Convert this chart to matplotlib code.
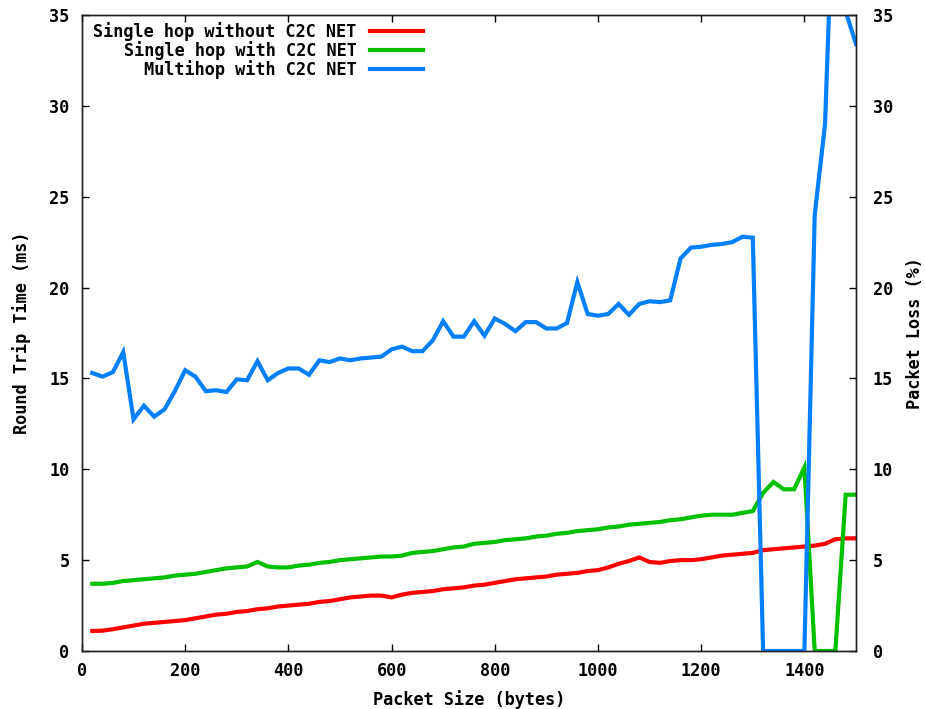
import matplotlib
matplotlib.use('Agg')
from matplotlib import pyplot as plt

# packet sizes (bytes)
packet_size = [
    20, 40, 60, 80, 100, 120, 140, 160, 180, 200,
    220, 240, 260, 280, 300, 320, 340, 360, 380, 400,
    420, 440, 460, 480, 500, 520, 540, 560, 580, 600,
    620, 640, 660, 680, 700, 720, 740, 760, 780, 800,
    820, 840, 860, 880, 900, 920, 940, 960, 980, 1000,
    1020, 1040, 1060, 1080, 1100, 1120, 1140, 1160, 1180, 1200,
    1220, 1240, 1260, 1280, 1300, 1320, 1340, 1360, 1380, 1400,
    1420, 1440, 1460, 1480, 1500,
]

single_no_c2c = [
    1.1, 1.12, 1.2, 1.3, 1.4, 1.5, 1.55, 1.6, 1.65, 1.7,
    1.8, 1.9, 2.0, 2.05, 2.15, 2.2, 2.3, 2.35, 2.45, 2.5,
    2.55, 2.6, 2.7, 2.75, 2.85, 2.95, 3.0, 3.05, 3.05, 2.95,
    3.1, 3.2, 3.25, 3.3, 3.4, 3.45, 3.5, 3.6, 3.65, 3.75,
    3.85, 3.95, 4.0, 4.05, 4.1, 4.2, 4.25, 4.3, 4.4, 4.45,
    4.6, 4.8, 4.95, 5.15, 4.9, 4.85, 4.95, 5.0, 5.0, 5.05,
    5.15, 5.25, 5.3, 5.35, 5.4, 5.55, 5.6, 5.65, 5.7, 5.75,
    5.8, 5.9, 6.15, 6.2, 6.2,
]

single_c2c = [
    3.7, 3.7, 3.75, 3.85, 3.9, 3.95, 4.0, 4.05, 4.15, 4.2,
    4.25, 4.35, 4.45, 4.55, 4.6, 4.65, 4.9, 4.65, 4.6, 4.6,
    4.7, 4.75, 4.85, 4.9, 5.0, 5.05, 5.1, 5.15, 5.2, 5.2,
    5.25, 5.4, 5.45, 5.5, 5.6, 5.7, 5.75, 5.9, 5.95, 6.0,
    6.1, 6.15, 6.2, 6.3, 6.35, 6.45, 6.5, 6.6, 6.65, 6.7,
    6.8, 6.85, 6.95, 7.0, 7.05, 7.1, 7.2, 7.25, 7.35, 7.45,
    7.5, 7.5, 7.5, 7.6, 7.7, 8.7, 9.3, 8.9, 8.9, 10.1,
    0.0, 0.0, 0.0, 8.6, 8.6,
]

multihop_c2c = [
    15.3, 15.1, 15.35, 16.45, 12.75, 13.5, 12.9, 13.3, 14.3, 15.45,
    15.1, 14.3, 14.35, 14.25, 14.95, 14.9, 15.95, 14.9, 15.3, 15.55,
    15.55, 15.2, 16.0, 15.9, 16.1, 16.0, 16.1, 16.15, 16.2, 16.6,
    16.75, 16.5, 16.5, 17.1, 18.15, 17.3, 17.3, 18.15, 17.35, 18.3,
    18.0, 17.6, 18.1, 18.1, 17.75, 17.75, 18.05, 20.3, 18.55, 18.45,
    18.55, 19.1, 18.5, 19.1, 19.25, 19.2, 19.3, 21.6, 22.2, 22.25,
    22.35, 22.4, 22.5, 22.8, 22.75, 0.0, 0.0, 0.0, 0.0, 0.0,
    24.0, 29.0, 45.0, 35.2, 33.4,
]

labels = ['Single hop without C2C NET', 'Single hop with C2C NET',
          'Multihop with C2C NET']
colors = ['#ff0000', '#00c000', '#0080ff']
x_ticks = [0, 200, 400, 600, 800, 1000, 1200, 1400]
y_ticks = [0, 5, 10, 15, 20, 25, 30, 35]

fs = 12.2
plt.rcParams['font.family'] = 'DejaVu Sans Mono'
plt.rcParams['font.weight'] = 'bold'
plt.rcParams['axes.labelweight'] = 'bold'
plt.rcParams['font.size'] = fs

fig = plt.figure(figsize=(9.25, 7.09), dpi=100)
ax = fig.add_axes([0.0886, 0.0818, 0.8368, 0.897])

for ys, lab, c in zip([single_no_c2c, single_c2c, multihop_c2c], labels, colors):
    ax.plot(packet_size, ys, color=c, lw=3, label=lab, solid_joinstyle='miter')

ax.set_xlim(0, 1500)
ax.set_ylim(0, 35)
ax.set_xticks(x_ticks)
ax.set_yticks(y_ticks)
ax.tick_params(direction='in', length=5, width=1, top=True, right=False, labelsize=fs)
ax.tick_params(axis='x', pad=8)
ax.tick_params(axis='y', pad=9)

ax2 = ax.twinx()
ax2.set_ylim(0, 35)
ax2.set_yticks(y_ticks)
ax2.tick_params(direction='in', length=5, width=1, pad=12, labelsize=fs)

for a in (ax, ax2):
    for s in a.spines.values():
        s.set_linewidth(1.0)
        s.set_color('#222222')

ax.set_xlabel('Packet Size (bytes)', fontsize=fs)
ax.xaxis.set_label_coords(0.5, -0.0755)
ax.xaxis.label.set_va('center')
ax.set_ylabel('Round Trip Time (ms)', fontsize=fs, va='center')
ax.yaxis.set_label_coords(-0.078, 0.5)
ax2.set_ylabel('Packet Loss (%)', fontsize=fs, va='center', rotation=90)
ax2.yaxis.set_label_coords(1.076, 0.5)

ax.legend(loc='upper left', bbox_to_anchor=(0.006, 1.0), frameon=False,
          markerfirst=False, handlelength=3.1, handletextpad=0.8,
          labelspacing=0.0, borderaxespad=0.05, borderpad=0.35, fontsize=fs)

fig.savefig('out.png', dpi=100)
